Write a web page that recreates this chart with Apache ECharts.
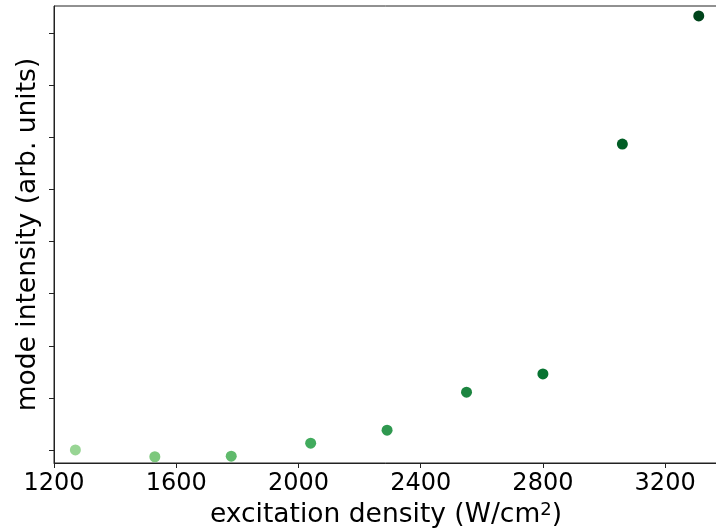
<!DOCTYPE html>
<html>
<head>
<meta charset="utf-8">
<script src="https://cdn.jsdelivr.net/npm/echarts@6/dist/echarts.min.js"></script>
<style>
  html, body { margin: 0; padding: 0; background: #fff; }
  #chart { width: 716px; height: 530px; }
</style>
</head>
<body>
<div id="chart"></div>
<script>
// 数据
const density = [1270, 1530, 1780, 2040, 2290, 2550, 2800, 3060, 3310];
const intensity = [0.0, -0.13, -0.12, 0.13, 0.38, 1.11, 1.46, 5.87, 8.33];
// Greens colormap, light -> dark
const pointColors = ["#98d594", "#7dc87d", "#60ba6c", "#41ab5d", "#2f984f", "#1c8540", "#077331", "#005d25", "#00441b"];
const xTicks = [1200, 1600, 2000, 2400, 2800, 3200];
const yTicks = [0, 1, 2, 3, 4, 5, 6, 7, 8];

(function () {
  let myChart = echarts.init(document.getElementById("chart"));
  const font = "DejaVu Sans";
  let option = {
    animation: false,
    grid: {
      left: 54,
      top: 6,
      width: 664,
      height: 457,
      outerBoundsMode: "none",
      containLabel: false,
      show: true,
      borderColor: "#222",
      borderWidth: 1,
    },
    xAxis: {
      type: "value",
      min: 1200,
      max: 3373,
      name: "{t|excitation density (W/cm}{s|2}{t|)}",
      nameLocation: "middle",
      nameGap: 34,
      nameTextStyle: {
        color: "#000",
        fontFamily: font,
        rich: {
          t: { fontSize: 26.5, fontFamily: font, color: "#000" },
          s: { fontSize: 18, fontFamily: font, color: "#000", verticalAlign: "top", padding: [0, 0, 10, 0] },
        },
      },
      axisLine: { onZero: false, lineStyle: { color: "#222", width: 1 } },
      axisTick: { length: 5, lineStyle: { color: "#222" }, customValues: xTicks },
      axisLabel: {
        color: "#000",
        fontSize: 24,
        fontFamily: font,
        margin: 9,
        customValues: xTicks,
        formatter: (v) => String(v),
      },
      splitLine: { show: false },
    },
    yAxis: {
      type: "value",
      min: -0.25,
      max: 8.52,
      name: "mode intensity (arb. units)",
      nameLocation: "middle",
      nameGap: 12,
      nameTextStyle: { color: "#000", fontSize: 26.5, fontFamily: font },
      axisLine: { show: true, onZero: false, lineStyle: { color: "#222", width: 1 } },
      axisTick: { show: true, length: 5, lineStyle: { color: "#222" }, customValues: yTicks },
      axisLabel: { show: false },
      splitLine: { show: false },
    },
    series: [
      {
        type: "scatter",
        symbolSize: 11,
        itemStyle: { opacity: 1 },
        data: density.map((x, i) => ({
          value: [x, intensity[i]],
          itemStyle: { color: pointColors[i], opacity: 1 },
        })),
      },
    ],
  };
  myChart.setOption(option);
})();
</script>
</body>
</html>
